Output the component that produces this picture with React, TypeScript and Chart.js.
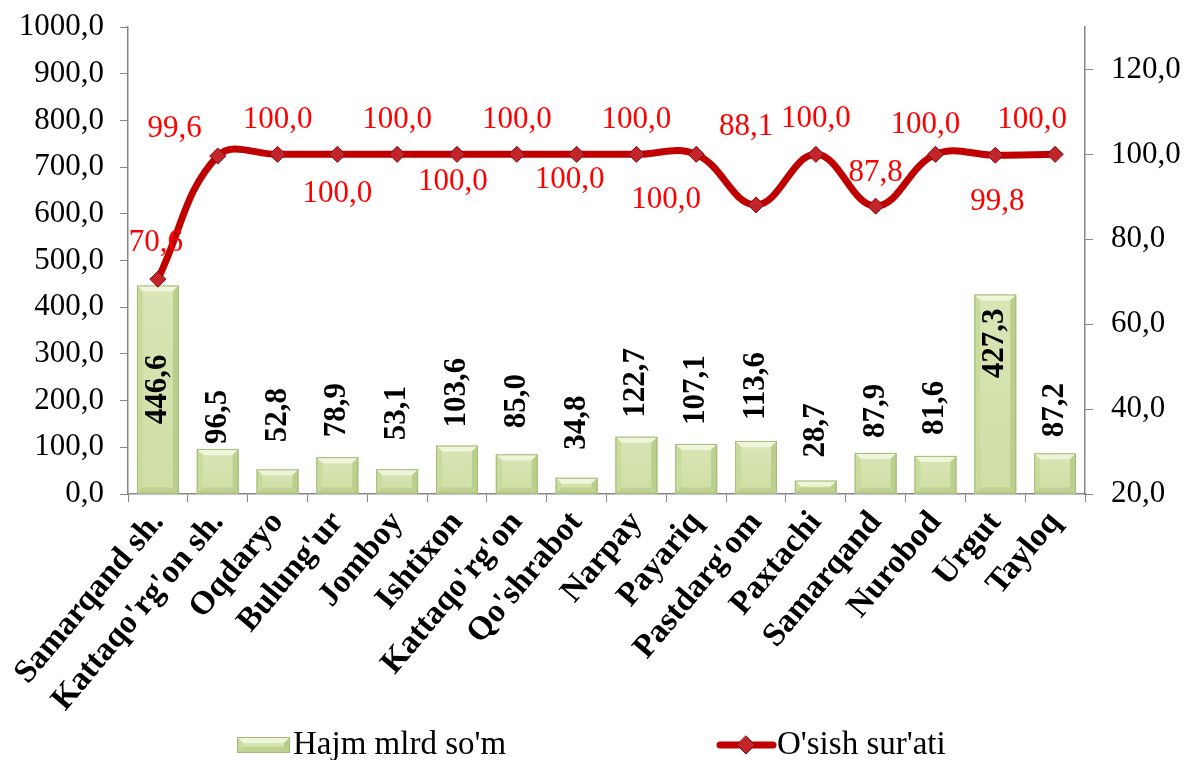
import React, { useEffect, useRef } from 'react';
import { Chart, registerables } from 'chart.js';

Chart.register(...registerables);

const categories = [
  'Samarqand sh.', "Kattaqo'rg'on sh.", 'Oqdaryo', "Bulung'ur", 'Jomboy', 'Ishtixon',
  "Kattaqo'rg'on", "Qo'shrabot", 'Narpay', 'Payariq', "Pastdarg'om", 'Paxtachi',
  'Samarqand', 'Nurobod', 'Urgut', 'Tayloq',
];
const volumeValues = [446.6, 96.5, 52.8, 78.9, 53.1, 103.6, 85.0, 34.8, 122.7, 107.1, 113.6, 28.7, 87.9, 81.6, 427.3, 87.2];
const growthValues = [70.6, 99.6, 100.0, 100.0, 100.0, 100.0, 100.0, 100.0, 100.0, 100.0, 88.1, 100.0, 87.8, 100.0, 99.8, 100.0];
const seriesNames = ["Hajm mlrd so'm", "O'sish sur'ati"];
const leftAxis = { min: 0, max: 1000, step: 100 };
const rightAxis = { min: 20, max: 130, step: 20, lastLabel: 120 };

// label placement (offsets from the point, in px)
const lineLabelOffsets: [number, number][] = [
  [-2, -36], [-43, -27], [0, -35], [0, 39], [0, -35], [-4, 27], [0, -35], [-7, 25],
  [0, -35], [-30, 45], [-10, -78], [0, -36], [0, -33], [-10, -30], [2, 47], [-23, -35],
];
// gap above bar top; 'c' = centered inside; negative = inside from top
const barLabelGaps: (number | 'c')[] = ['c', 5, 27, 20, 29, 18, 26, 28, 19, 19, 21, 23, 15, 21, -14, 16];

const SERIF = "'Liberation Serif', 'Times New Roman', serif";
const fmt = (v: number) => v.toFixed(1).replace('.', ',');

function poly(ctx: CanvasRenderingContext2D, pts: number[][], color: string) {
  ctx.beginPath();
  ctx.moveTo(pts[0][0], pts[0][1]);
  for (let i = 1; i < pts.length; i++) ctx.lineTo(pts[i][0], pts[i][1]);
  ctx.closePath();
  ctx.fillStyle = color;
  ctx.fill();
}

function drawBevel(ctx: CanvasRenderingContext2D, l: number, t: number, r: number, b: number) {
  const s = Math.max(0, Math.min(6, (b - t) / 2, (r - l) / 2));
  ctx.save();
  const g = ctx.createLinearGradient(0, t, 0, b);
  g.addColorStop(0, '#d9e6b6');
  g.addColorStop(1, '#cfdea5');
  ctx.fillStyle = g;
  ctx.fillRect(l, t, r - l, b - t);
  poly(ctx, [[l, t], [r, t], [r - s, t + s], [l + s, t + s]], '#eef5db');
  poly(ctx, [[l, t], [l + s, t + s], [l + s, b - s], [l, b]], '#cadb9e');
  poly(ctx, [[r, t], [r, b], [r - s, b - s], [r - s, t + s]], '#bacf8c');
  poly(ctx, [[l, b], [l + s, b - s], [r - s, b - s], [r, b]], '#bfd292');
  ctx.strokeStyle = '#a4ba7a';
  ctx.lineWidth = 1;
  ctx.strokeRect(l + 0.5, t + 0.5, r - l - 1, b - t - 1);
  ctx.restore();
}

const bevelPlugin = {
  id: 'bevelBars',
  afterDatasetDraw(chart: any, args: any) {
    if (args.index !== 0) return;
    const ctx = chart.ctx;
    args.meta.data.forEach((bar: any) => {
      const { x, y, base, width } = bar.getProps(['x', 'y', 'base', 'width'], true);
      drawBevel(ctx, x - width / 2, Math.min(y, base), x + width / 2, Math.max(y, base));
    });
  },
};

const labelsPlugin = {
  id: 'valueLabels',
  afterDatasetsDraw(chart: any) {
    const ctx: CanvasRenderingContext2D = chart.ctx;
    const barMeta = chart.getDatasetMeta(0);
    ctx.save();
    ctx.font = `bold 31px ${SERIF}`;
    ctx.fillStyle = '#000000';
    ctx.textBaseline = 'middle';
    barMeta.data.forEach((bar: any, i: number) => {
      const { x, y, base } = bar.getProps(['x', 'y', 'base'], true);
      const gap = barLabelGaps[i];
      const text = fmt(volumeValues[i]);
      ctx.save();
      if (gap === 'c') {
        ctx.translate(x, (y + base) / 2);
        ctx.rotate(-Math.PI / 2);
        ctx.textAlign = 'center';
      } else if (gap < 0) {
        ctx.translate(x, y - gap);
        ctx.rotate(-Math.PI / 2);
        ctx.textAlign = 'right';
      } else {
        ctx.translate(x, y - gap);
        ctx.rotate(-Math.PI / 2);
        ctx.textAlign = 'left';
      }
      ctx.fillText(text, 0, 0);
      ctx.restore();
    });
    ctx.restore();

    const lineMeta = chart.getDatasetMeta(1);
    ctx.save();
    ctx.font = `31px ${SERIF}`;
    ctx.fillStyle = '#FF0000';
    ctx.textAlign = 'center';
    ctx.textBaseline = 'middle';
    lineMeta.data.forEach((pt: any, i: number) => {
      const { x, y } = pt.getProps(['x', 'y'], true);
      const [dx, dy] = lineLabelOffsets[i];
      ctx.fillText(fmt(growthValues[i]), x + dx, y + dy);
    });
    ctx.restore();
  },
};

const legendPlugin = {
  id: 'bottomLegend',
  afterDraw(chart: any) {
    const ctx: CanvasRenderingContext2D = chart.ctx;
    const cy = 745;
    ctx.save();
    drawBevel(ctx, 237, 737, 290, 753);
    ctx.font = `33px ${SERIF}`;
    ctx.fillStyle = '#000000';
    ctx.textAlign = 'left';
    ctx.textBaseline = 'middle';
    ctx.fillText(chart.data.datasets[0].label, 293, cy);

    ctx.strokeStyle = '#C00000';
    ctx.lineWidth = 7;
    ctx.lineCap = 'round';
    ctx.beginPath();
    ctx.moveTo(720, cy);
    ctx.lineTo(773, cy);
    ctx.stroke();
    poly(ctx, [[746, cy - 9], [755, cy], [746, cy + 9], [737, cy]], '#c0262c');
    ctx.strokeStyle = '#8b0000';
    ctx.lineWidth = 1;
    ctx.beginPath();
    ctx.moveTo(746, cy - 9); ctx.lineTo(755, cy); ctx.lineTo(746, cy + 9); ctx.lineTo(737, cy); ctx.closePath();
    ctx.stroke();
    ctx.fillStyle = '#000000';
    ctx.fillText(chart.data.datasets[1].label, 777, cy);
    ctx.restore();
  },
};

export default function App() {
  const canvasRef = useRef<HTMLCanvasElement | null>(null);

  useEffect(() => {
    const canvas = canvasRef.current;
    if (!canvas) return;
    const axisGray = '#868686';
    const chart = new Chart(canvas, {
      type: 'bar',
      data: {
        labels: categories,
        datasets: [
          {
            type: 'bar',
            label: seriesNames[0],
            data: volumeValues,
            yAxisID: 'y',
            backgroundColor: '#d3e2ab',
            borderWidth: 0,
            barPercentage: 0.7,
            categoryPercentage: 1.0,
            order: 1,
          } as any,
          {
            type: 'line',
            label: seriesNames[1],
            data: growthValues,
            yAxisID: 'y1',
            borderColor: '#C00000',
            borderWidth: 7,
            tension: 0.4,
            pointStyle: 'rectRot',
            pointRadius: 8,
            pointBackgroundColor: '#c0262c',
            pointBorderColor: '#8b0000',
            pointBorderWidth: 1,
            fill: false,
            order: 0,
          } as any,
        ],
      },
      options: {
        responsive: false,
        animation: false,
        devicePixelRatio: 1,
        layout: { padding: { top: 27, left: 0, right: 0, bottom: 0 } },
        plugins: {
          legend: { display: false },
          tooltip: { enabled: false },
        },
        scales: {
          x: {
            grid: {
              offset: true,
              drawOnChartArea: false,
              drawTicks: true,
              tickLength: 8,
              color: axisGray,
            },
            border: { display: true, color: axisGray, width: 1.5 },
            ticks: {
              autoSkip: false,
              minRotation: 50,
              maxRotation: 50,
              padding: 2,
              color: '#000000',
              font: { family: SERIF, size: 33, weight: 'bold' },
            },
            afterFit(scale: any) {
              scale.height = 266;
              scale.paddingLeft = 0;
              scale.paddingRight = 0;
            },
          },
          y: {
            position: 'left',
            min: leftAxis.min,
            max: leftAxis.max,
            grid: { drawOnChartArea: false, drawTicks: true, tickLength: 8, color: axisGray },
            border: { display: true, color: axisGray, width: 1.5 },
            ticks: {
              stepSize: leftAxis.step,
              padding: 16,
              color: '#000000',
              font: { family: SERIF, size: 31 },
              callback: (v: any) => fmt(Number(v)),
            },
            afterFit(scale: any) {
              scale.width = 128;
              scale.paddingTop = 0;
              scale.paddingBottom = 0;
            },
          },
          y1: {
            position: 'right',
            min: rightAxis.min,
            max: rightAxis.max,
            grid: { drawOnChartArea: false, drawTicks: true, tickLength: 8, color: axisGray },
            border: { display: true, color: axisGray, width: 1.5 },
            ticks: {
              stepSize: rightAxis.step,
              padding: 18,
              color: '#000000',
              font: { family: SERIF, size: 31 },
              callback: (v: any) => fmt(Number(v)),
            },
            afterBuildTicks(scale: any) {
              scale.ticks = scale.ticks.filter((t: any) => t.value <= rightAxis.lastLabel);
            },
            afterFit(scale: any) {
              scale.width = 104;
              scale.paddingTop = 0;
              scale.paddingBottom = 0;
            },
          },
        },
      } as any,
      plugins: [bevelPlugin, labelsPlugin, legendPlugin],
    });
    return () => chart.destroy();
  }, []);

  return (
    <div style={{ position: 'absolute', left: 0, top: 0, width: 1189, height: 760, background: '#ffffff' }}>
      <canvas ref={canvasRef} width={1189} height={760} style={{ width: 1189, height: 760, display: 'block' }} />
    </div>
  );
}
